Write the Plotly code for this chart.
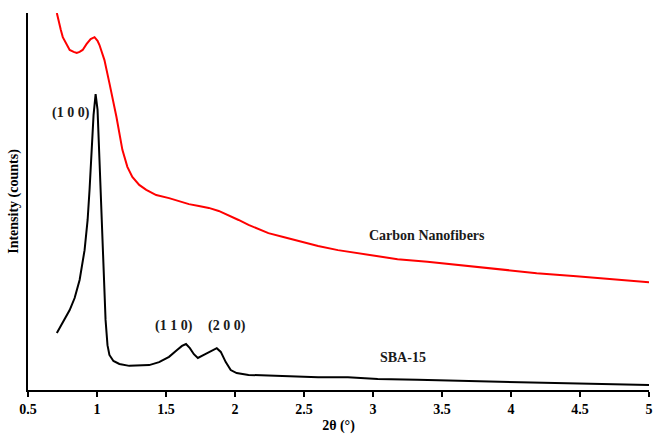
import plotly.graph_objects as go

# Carbon Nanofibers (red)
cnf_x = [0.709, 0.723, 0.738, 0.752, 0.774, 0.802, 0.831, 0.853, 0.874, 0.896, 0.925, 0.954, 0.982,
         1.004, 1.018, 1.033, 1.054, 1.090, 1.141, 1.184, 1.220, 1.256, 1.306, 1.357, 1.429, 1.522,
         1.594, 1.666, 1.738, 1.810, 1.882, 1.954, 2.026, 2.098, 2.170, 2.242, 2.350, 2.458, 2.602,
         2.746, 2.890, 3.034, 3.178, 3.394, 3.610, 3.898, 4.186, 4.474, 4.762, 5.0]
cnf_y = [100.0, 97.6, 95.5, 93.6, 92.0, 90.2, 89.7, 89.4, 89.7, 90.2, 91.8, 93.1, 93.6,
         92.6, 91.5, 89.7, 87.5, 81.4, 72.4, 63.7, 59.2, 56.5, 54.4, 53.1, 51.7, 50.9,
         50.1, 49.3, 48.8, 48.3, 47.5, 46.4, 45.1, 43.8, 42.7, 41.6, 40.6, 39.5, 38.2,
         37.1, 36.3, 35.5, 34.7, 34.0, 33.2, 32.1, 31.0, 30.2, 29.4, 28.6]

# SBA-15 (black)
sba_x = [0.709, 0.730, 0.766, 0.802, 0.838, 0.874, 0.910, 0.932, 0.946, 0.961, 0.975, 0.990,
         1.004, 1.018, 1.033, 1.047, 1.062, 1.076, 1.090, 1.119, 1.162, 1.234, 1.306, 1.378,
         1.450, 1.522, 1.580, 1.616, 1.645, 1.673, 1.702, 1.731, 1.774, 1.825, 1.868, 1.897,
         1.933, 1.969, 2.012, 2.098, 2.314, 2.602, 2.818, 3.034, 3.322, 3.682, 4.042, 4.474, 5.0]
sba_y = [15.1, 16.4, 18.6, 21.2, 24.4, 29.2, 37.1, 45.1, 53.1, 63.7, 72.9, 78.5,
         74.3, 61.0, 47.7, 31.8, 18.6, 11.9, 9.3, 7.7, 6.9, 6.4, 6.4, 6.6,
         7.4, 8.8, 10.6, 11.7, 12.2, 11.1, 9.5, 8.5, 9.3, 10.3, 11.1, 10.1,
         7.4, 5.3, 4.5, 4.0, 3.7, 3.4, 3.4, 2.9, 2.7, 2.4, 2.1, 1.6, 1.3]

x_ticks = [0.5, 1, 1.5, 2, 2.5, 3, 3.5, 4, 4.5, 5]
x_tick_labels = ["0.5", "1", "1.5", "2", "2.5", "3", "3.5", "4", "4.5", "5"]

labels_text = ["(1 0 0)", "(1 1 0)", "(2 0 0)", "Carbon Nanofibers", "SBA-15"]
labels_x = [0.81, 1.56, 1.945, 3.39, 3.22]
labels_y = [73.5, 16.9, 16.9, 41.1, 8.5]

FONT = "Liberation Serif"

fig = go.Figure()
fig.add_trace(go.Scatter(x=cnf_x, y=cnf_y, mode="lines", line=dict(color="#ff0000", width=2),
                         showlegend=False))
fig.add_trace(go.Scatter(x=sba_x, y=sba_y, mode="lines", line=dict(color="#000000", width=2),
                         showlegend=False))

for t, x, y in zip(labels_text, labels_x, labels_y):
    fig.add_annotation(x=x, y=y, text="<b>%s</b>" % t, showarrow=False,
                       font=dict(family=FONT, size=14, color="#1a1a1a"))

fig.update_layout(
    width=656, height=434,
    margin=dict(l=28, r=3, t=13, b=44),
    plot_bgcolor="white", paper_bgcolor="white",
    xaxis=dict(range=[0.5, 5], tickvals=x_ticks, ticktext=x_tick_labels,
               ticks="outside", ticklen=5, tickwidth=2, tickcolor="black",
               ticklabeloverflow="allow",
               showline=True, linecolor="black", linewidth=2, showgrid=False, zeroline=False,
               tickfont=dict(family=FONT, size=14, color="black", weight="bold"),
               title=dict(text="<b>2θ (°)</b>", font=dict(family=FONT, size=14, color="black"),
                          standoff=4)),
    yaxis=dict(range=[0, 100], showticklabels=False, ticks="",
               showline=True, linecolor="black", linewidth=2, showgrid=False, zeroline=False,
               title=dict(text="<b>Intensity (counts)</b>",
                          font=dict(family=FONT, size=14, color="black"), standoff=4)),
)

fig.write_html("out.html")
